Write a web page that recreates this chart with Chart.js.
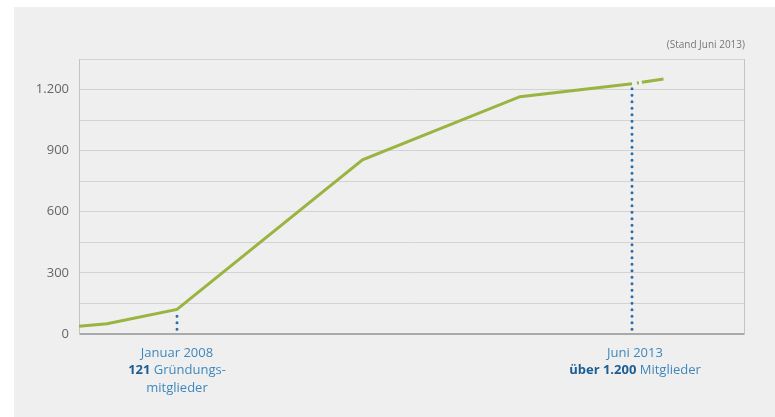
<!DOCTYPE html>
<html>
<head>
<meta charset="utf-8">
<script src="https://cdn.jsdelivr.net/npm/chart.js@4.4.1/dist/chart.umd.min.js"></script>
<style>
  html, body { margin: 0; padding: 0; background: #ffffff; }
  #wrap { position: relative; width: 775px; height: 417px; overflow: hidden; }
  #bg { position: absolute; left: 14px; top: 7px; right: 0; bottom: 0; background: #efefef; }
  #c { position: absolute; left: 0; top: 0; }
</style>
</head>
<body>
<div id="wrap">
  <div id="bg"></div>
  <canvas id="c" width="775" height="417"></canvas>
</div>
<script>
// ---- Data (x = months since January 2008) ----
const monthsSinceJan2008 = [-14, -10, 0, 26.5, 49, 65];
const members            = [38, 50, 121, 855, 1165, 1228];
const forecastMonths     = [65, 69.5];
const forecastMembers    = [1228, 1252];

// dotted marker lines
const markerMonths = [0, 65];
const markerFrom   = [23, 23];
const markerTo     = [88, 1210];

// axis settings
const xMin = -14, xMax = 81;
const yMin = 0, yMax = 1350, yGridStep = 150, yLabelStep = 300;

// annotation texts below the axis: [bold part, normal part]
const markerTexts = [
  [[['', 'Januar 2008']], [['121', ' Gründungs-']], [['', 'mitglieder']]],
  [[['', 'Juni 2013']], [['über 1.200', ' Mitglieder']]]
];
const noteText = '(Stand Juni 2013)';

const GREEN = '#9ab441';
const BLUE_DOT = '#2a6da8';
const BLUE_TXT = '#3f87bb';
const BLUE_BOLD = '#1c5d94';
const FONT = '"Open Sans", "Noto Sans", sans-serif';

function fmtDE(v) {
  return String(v).replace(/\B(?=(\d{3})+(?!\d))/g, '.');
}

const main = monthsSinceJan2008.map((x, i) => ({x, y: members[i]}));
const forecast = forecastMonths.map((x, i) => ({x, y: forecastMembers[i]}));
const markerSets = markerMonths.map((m, i) => ({
  data: [{x: m, y: markerFrom[i]}, {x: m, y: markerTo[i]}],
  borderColor: BLUE_DOT,
  borderWidth: 3,
  borderDash: [0, 6.5],
  borderCapStyle: 'round',
  pointRadius: 0,
  fill: false,
  order: 3
}));

const textPlugin = {
  id: 'texts',
  afterDraw(chart) {
    const ctx = chart.ctx;
    const xs = chart.scales.x;
    const area = chart.chartArea;
    ctx.save();
    ctx.textBaseline = 'middle';
    markerTexts.forEach((lines, i) => {
      const cx = xs.getPixelForValue(markerMonths[i]) + (i === 1 ? 3 : 0);
      lines.forEach((line, li) => {
        const y = area.bottom + 19 + li * 17.5;
        const parts = [];
        line.forEach(([b, n]) => {
          if (b) parts.push({t: b, font: 'bold 13px ' + FONT, color: BLUE_BOLD});
          if (n) parts.push({t: n, font: '13px ' + FONT, color: BLUE_TXT});
        });
        let total = 0;
        parts.forEach(p => { ctx.font = p.font; p.w = ctx.measureText(p.t).width; total += p.w; });
        let x = cx - total / 2;
        ctx.textAlign = 'left';
        parts.forEach(p => {
          ctx.font = p.font; ctx.fillStyle = p.color;
          ctx.fillText(p.t, x, y);
          x += p.w;
        });
      });
    });
    ctx.font = '10px ' + FONT;
    ctx.fillStyle = '#777777';
    ctx.textAlign = 'right';
    ctx.fillText(noteText, area.right + 1, area.top - 14);
    ctx.restore();
  }
};

const dashedEdge = {
  display: true,
  ticks: { display: false },
  grid: { display: false, drawTicks: false },
  border: { display: true, dash: [3, 3], color: '#c4c4c4', width: 1 }
};

new Chart(document.getElementById('c'), {
  type: 'line',
  data: {
    datasets: [
      {
        data: main,
        borderColor: GREEN,
        borderWidth: 3,
        pointRadius: 0,
        tension: 0,
        fill: false,
        order: 1
      },
      {
        data: forecast,
        borderColor: GREEN,
        borderWidth: 3,
        borderDash: [0, 5, 2, 3, 40, 0],
        pointRadius: 0,
        fill: false,
        order: 2
      },
      ...markerSets
    ]
  },
  options: {
    responsive: false,
    animation: false,
    layout: { padding: { left: 14, right: 31, top: 59, bottom: 83 } },
    plugins: { legend: { display: false }, tooltip: { enabled: false } },
    scales: {
      x: {
        type: 'linear',
        min: xMin, max: xMax,
        display: false
      },
      y: {
        type: 'linear',
        position: 'left',
        weight: 0,
        min: yMin, max: yMax,
        afterFit(s) { s.width = 65; },
        ticks: {
          stepSize: yGridStep,
          padding: 10,
          color: '#666666',
          font: { family: FONT, size: 13 },
          callback: v => (v % yLabelStep === 0 ? fmtDE(v) : '')
        },
        grid: {
          drawTicks: false,
          color: c => (c.tick && c.tick.value === 0 ? '#a9a9a9' : '#d3d3d3'),
          lineWidth: c => (c.tick && c.tick.value === 0 ? 2 : 1)
        },
        border: { display: false }
      },
      yLeftEdge: Object.assign({
        type: 'linear', position: 'left', weight: -10,
        afterFit(s) { s.width = 0; }
      }, dashedEdge),
      yRightEdge: Object.assign({
        type: 'linear', position: 'right', weight: -10,
        afterFit(s) { s.width = 0; }
      }, dashedEdge)
    }
  },
  plugins: [textPlugin]
});
</script>
</body>
</html>
